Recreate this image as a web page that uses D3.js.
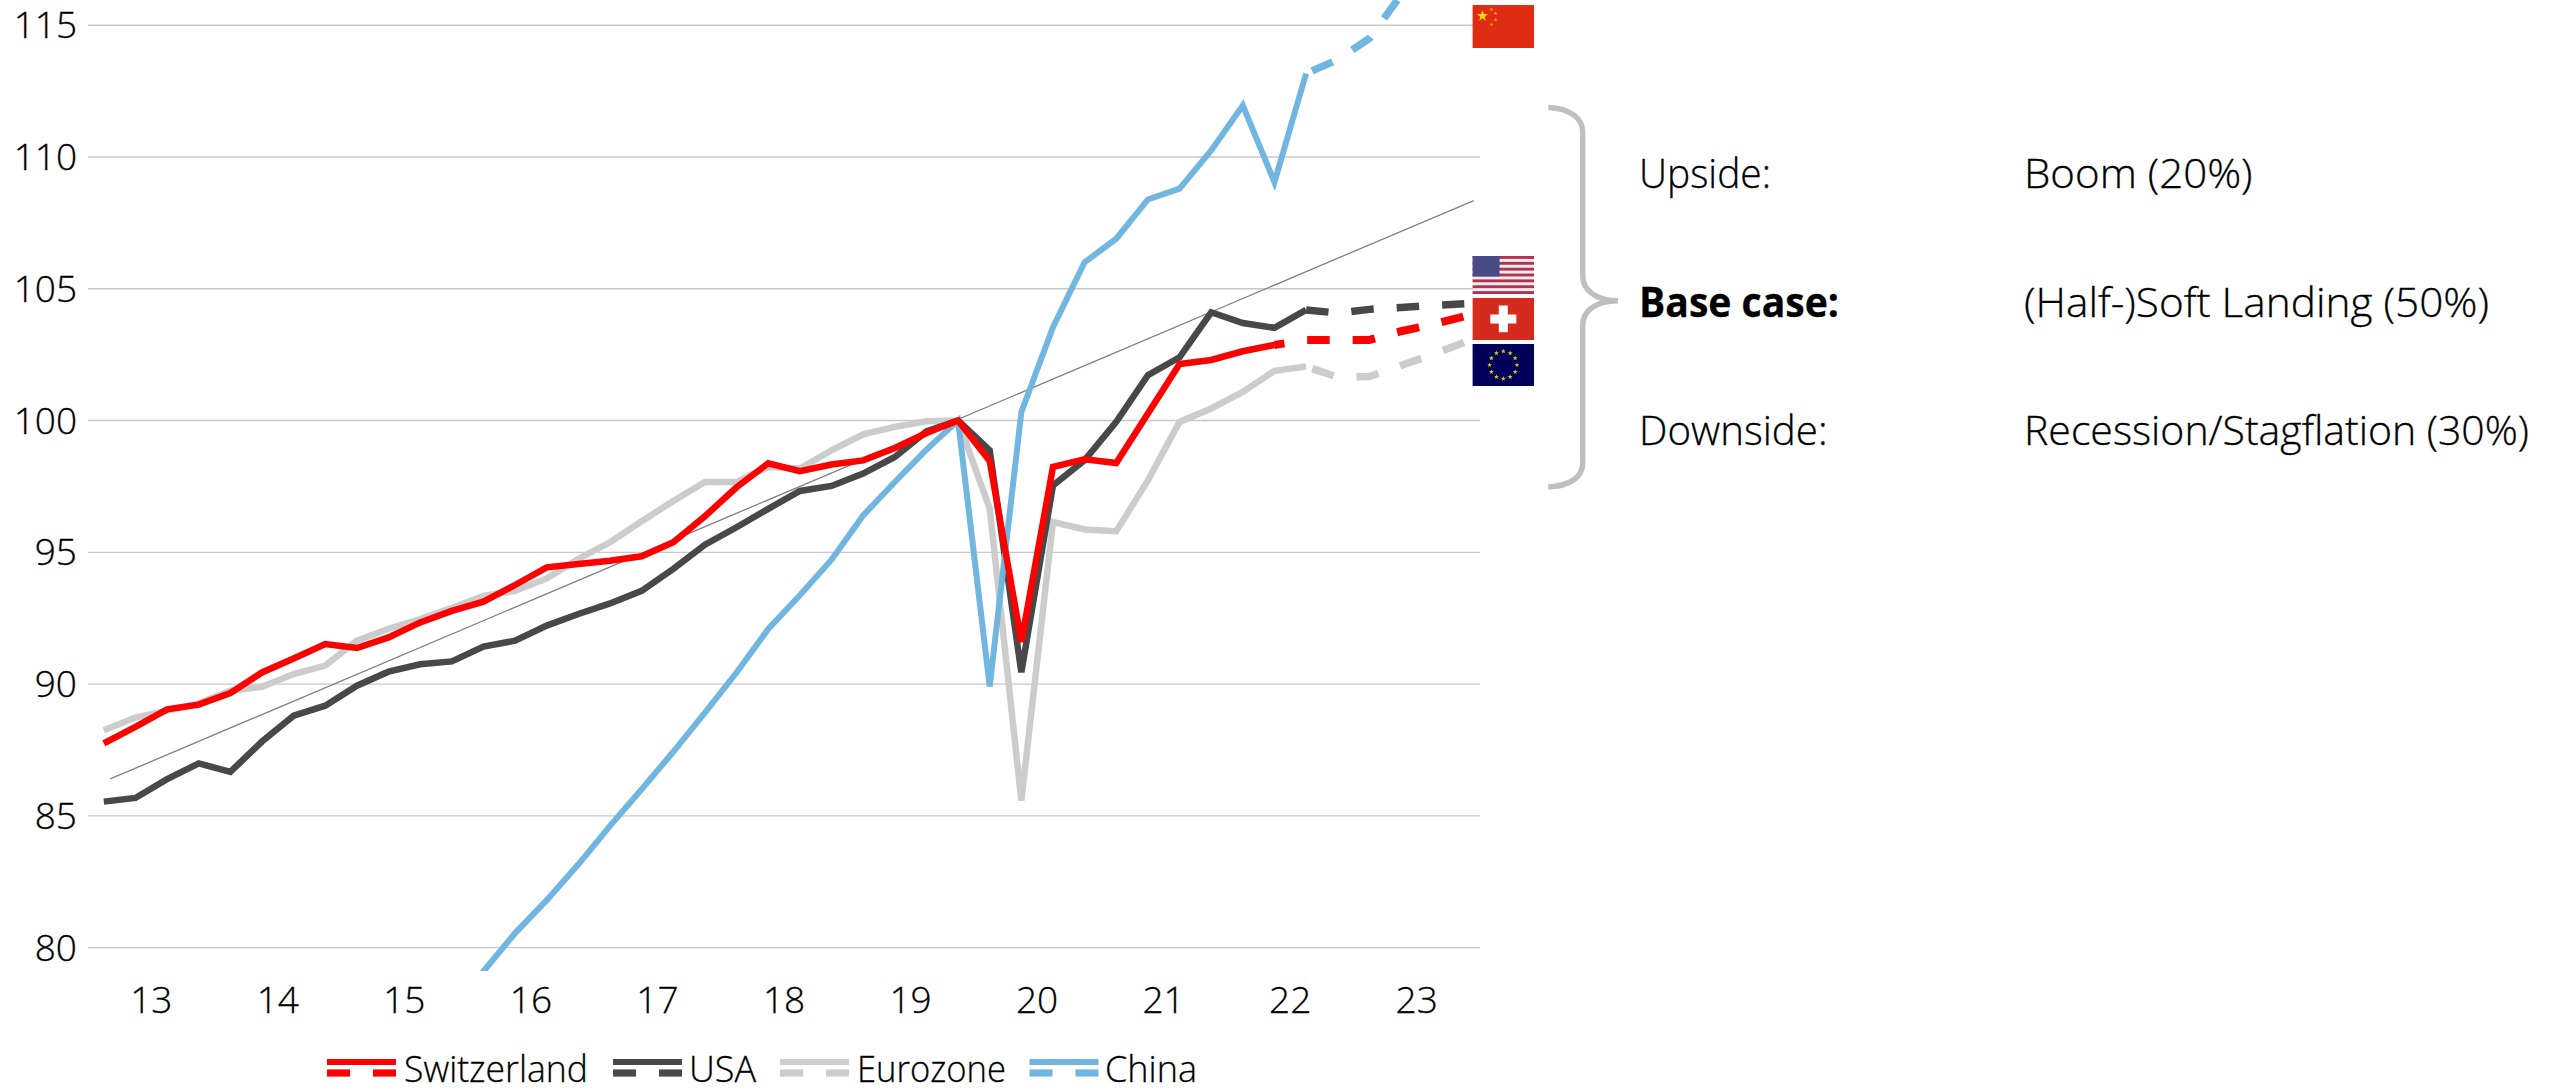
<!DOCTYPE html>
<html><head><meta charset="utf-8">
<script src="https://cdnjs.cloudflare.com/ajax/libs/d3/7.8.5/d3.min.js"></script>
<style>html,body{margin:0;padding:0;background:#fff;overflow:hidden}svg{display:block}text{font-family:"Open Sans",sans-serif;font-weight:300;fill:#000;stroke:#000;stroke-width:.3}</style>
</head><body><svg id="c" width="2563" height="1088"></svg>
<script>
const years=["13","14","15","16","17","18","19","20","21","22","23"];
const yTicks=[80,85,90,95,100,105,110,115];
const switzerland=[87.75,88.38,89.04,89.22,89.66,90.44,90.97,91.52,91.37,91.77,92.34,92.78,93.13,93.76,94.43,94.56,94.68,94.85,95.38,96.37,97.47,98.38,98.08,98.33,98.49,98.96,99.53,100,98.47,91.6,98.24,98.53,98.39,100.27,102.15,102.3,102.63,102.87,103.06,103.06,103.06,103.39,103.65,103.95];
const usa=[85.54,85.68,86.39,86.99,86.67,87.82,88.8,89.18,89.94,90.47,90.75,90.86,91.42,91.65,92.22,92.66,93.06,93.54,94.37,95.29,95.95,96.65,97.33,97.52,97.99,98.62,99.59,100,98.87,90.45,97.54,98.5,99.95,101.72,102.4,104.11,103.7,103.52,104.2,104.08,104.22,104.29,104.37,104.43];
const eurozone=[88.25,88.73,88.99,89.27,89.75,89.9,90.38,90.7,91.65,92.1,92.47,92.89,93.35,93.54,94.01,94.75,95.38,96.18,96.95,97.67,97.67,98.24,98.18,98.87,99.48,99.76,99.97,100,96.66,85.58,96.15,95.87,95.8,97.73,99.95,100.46,101.09,101.89,102.05,101.65,101.67,102.09,102.51,102.97];
const china=[null,null,null,null,null,null,null,null,null,null,null,77.7,79.1,80.55,81.8,83.16,84.62,86.01,87.43,88.92,90.44,92.09,93.37,94.72,96.4,97.67,98.9,100,89.91,100.32,103.54,106.01,106.9,108.39,108.8,110.25,111.96,109.05,113.17,113.7,114.5,116.15];
const trendIdx=[0.2,43.3], trendVal=[86.4,108.35];
const legendNames=["Switzerland","USA","Eurozone","China"];
const scenarioLabels=["Upside:","Base case:","Downside:"];
const scenarioTexts=["Boom (20%)","(Half-)Soft Landing (50%)","Recession/Stagflation (30%)"];

const svg=d3.select("#c");
const FS=37;
const x=d3.scaleLinear().domain([0,43]).range([103.8,1464.3]);
const yr=d3.scaleBand().domain(years).range([88,1480]);
const y=d3.scaleLinear().domain([80,115]).range([947.6,25.3]);
svg.append("defs").append("clipPath").attr("id","pc").append("rect").attr("x",80).attr("y",0).attr("width",1420).attr("height",971);

svg.append("g").selectAll("line").data(yTicks).join("line")
 .attr("x1",88).attr("x2",1480).attr("y1",d=>y(d)).attr("y2",d=>y(d)).attr("stroke","#c8c8c8").attr("stroke-width",1.4);
svg.append("g").selectAll("text").data(yTicks).join("text")
 .attr("x",77).attr("y",d=>y(d)+13).attr("text-anchor","end").attr("font-size",FS).text(d=>d);
svg.append("g").selectAll("text").data(years).join("text")
 .attr("x",d=>yr(d)+yr.bandwidth()/2).attr("y",1013).attr("text-anchor","middle").attr("font-size",FS).text(d=>d);

const plot=svg.append("g").attr("clip-path","url(#pc)");
const line=d3.line().defined(d=>d[1]!=null).x(d=>x(d[0])).y(d=>y(d[1]));
plot.append("path").attr("d",line(trendIdx.map((t,i)=>[t,trendVal[i]]))).attr("fill","none").attr("stroke","#808080").attr("stroke-width",1.3);
const series=[
 {v:eurozone,c:"#cccccc",w:6.5,dw:7.5,cut:38,off:39},
 {v:usa,c:"#484848",w:6.5,dw:7.5,cut:38,off:0},
 {v:china,c:"#70b6e0",w:6,dw:7.5,cut:38,off:39},
 {v:switzerland,c:"#ff0000",w:6.5,dw:8,cut:37,off:12.4}
];
series.forEach(s=>{
 const pts=s.v.map((d,i)=>[i,d]);
 plot.append("path").attr("d",line(pts.slice(0,s.cut+1))).attr("fill","none").attr("stroke",s.c).attr("stroke-width",s.w).attr("stroke-linejoin","miter");
 plot.append("path").attr("d",line(pts.slice(s.cut))).attr("fill","none").attr("stroke",s.c).attr("stroke-width",s.dw).attr("stroke-dasharray","22.5 23").attr("stroke-dashoffset",s.off);
});

// legend
const lgX=[327,613,780,1029.5], lgT=[404,689,857,1105], lgW=[184,67,149,92], lgC=["#ff0000","#484848","#cccccc","#70b6e0"];
const lg=svg.append("g").selectAll("g").data(legendNames).join("g");
lg.append("rect").attr("x",(d,i)=>lgX[i]).attr("y",1059).attr("width",69).attr("height",6).attr("fill",(d,i)=>lgC[i]);
lg.append("rect").attr("x",(d,i)=>lgX[i]).attr("y",1069.4).attr("width",23).attr("height",7.2).attr("fill",(d,i)=>lgC[i]);
lg.append("rect").attr("x",(d,i)=>lgX[i]+46).attr("y",1069.4).attr("width",23).attr("height",7.2).attr("fill",(d,i)=>lgC[i]);
lg.append("text").attr("x",(d,i)=>lgT[i]).attr("y",1081.5).attr("font-size",FS).attr("textLength",(d,i)=>lgW[i]).attr("lengthAdjust","spacingAndGlyphs").text(d=>d);

// brace
svg.append("path").attr("fill","none").attr("stroke","#bfbfbf").attr("stroke-width",5.5)
 .attr("d","M1548.3,107.5C1570,108.5 1582.7,118 1582.7,132L1582.7,276C1582.7,290 1596,300.7 1618,300.7C1596,300.7 1582.7,311 1582.7,325L1582.7,463C1582.7,477 1570,486 1548.3,487");
// scenario text
const sy=[188,317,444.5], slW=[132,200,188.5], stW=[228.5,465,505];
svg.append("g").selectAll("text").data(scenarioLabels).join("text").attr("x",1639).attr("y",(d,i)=>sy[i]).attr("font-size",40.5)
 .attr("textLength",(d,i)=>slW[i]).attr("lengthAdjust","spacingAndGlyphs")
 .style("font-weight",(d,i)=>i==1?700:300).text(d=>d);
svg.append("g").selectAll("text").data(scenarioTexts).join("text").attr("x",2024).attr("y",(d,i)=>sy[i]).attr("font-size",40.5)
 .attr("textLength",(d,i)=>stW[i]).attr("lengthAdjust","spacingAndGlyphs").text(d=>d);

// flags
const fx=1472.6,fw=61.4;
const g=svg.append("g");
function star(cx,cy,r,fill,rot=0){const p=[];for(let i=0;i<10;i++){const a=-Math.PI/2+rot+i*Math.PI/5,q=i%2?r*0.4:r;p.push([cx+q*Math.cos(a),cy+q*Math.sin(a)]);}g.append("polygon").attr("points",p.map(d=>d.join(",")).join(" ")).attr("fill",fill);}
g.append("rect").attr("x",fx).attr("y",5).attr("width",fw).attr("height",43).attr("fill","#e02c12");
star(1482.5,16,5.8,"#ffdc00");star(1491.5,9.5,2,"#f0b000");star(1495.5,13.5,2,"#f0b000");star(1495.5,20,2,"#f0b000");star(1491.5,24.5,2,"#f0b000");
// USA
g.append("rect").attr("x",fx).attr("y",256).attr("width",fw).attr("height",38).attr("fill","#f2eeef");
for(let i=0;i<7;i++)g.append("rect").attr("x",fx).attr("y",256+i*5.85).attr("width",fw).attr("height",2.9).attr("fill","#b1344e");
g.append("rect").attr("x",fx).attr("y",256).attr("width",27).attr("height",20.5).attr("fill","#4a4a85");
// CH
g.append("rect").attr("x",fx).attr("y",298).attr("width",fw).attr("height",42).attr("fill","#d52b1e");
g.append("rect").attr("x",fx+17.7).attr("y",314.5).attr("width",26).attr("height",9).attr("fill","#fff");
g.append("rect").attr("x",fx+26.2).attr("y",305.5).attr("width",9).attr("height",26.7).attr("fill","#fff");
// EU
g.append("rect").attr("x",fx).attr("y",344).attr("width",fw).attr("height",42).attr("fill","#000058");
for(let i=0;i<12;i++){const a=i*Math.PI/6;star(fx+fw/2+13.7*Math.sin(a),365-13.7*Math.cos(a),2.6,"#d8c820");}
</script></body></html>
